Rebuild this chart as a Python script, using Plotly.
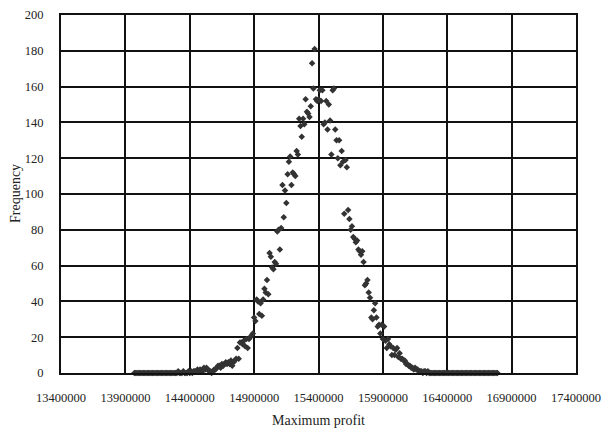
import plotly.graph_objects as go

# Bin start (lower edge) and bin width of the histogram (in currency units)
bin_start = 13970000
bin_width = 10000

# Frequencies per bin (13970000 .. 16790000)
freq_left_tail = [0] * 34 + [1, 0, 0, 0, 1, 0, 0, 0, 1]          # 13970000 .. 14390000
freq_rise = [0, 1, 0, 1, 1, 1, 2, 1, 2, 1,
             1, 3, 2, 3, 2, 1, 1, 0, 1, 2,
             2, 3, 4, 4, 3, 5, 4, 5, 6, 5,
             6, 5, 7, 4, 6, 7, 8, 14, 8, 17,
             17, 16, 18, 15, 19, 14, 19, 20, 21, 22,
             31, 29, 41, 40, 33, 39, 32, 41, 47, 45,
             52, 44, 67, 65, 59, 58, 62, 61, 79, 80,
             69, 81, 105, 87, 102, 95, 111, 118, 121, 105,
             112, 111, 110, 124, 122, 142, 138, 132, 142, 139,
             153, 146, 145, 143, 149, 173, 159, 181]                 # 14400000 .. 15370000
freq_fall = [153, 152, 153, 158, 152, 158, 139, 140, 152, 136,
             150, 141, 122, 158, 159, 136, 130, 120, 130, 116,
             124, 118, 89, 119, 115, 91, 86, 80, 82, 76,
             75, 73, 74, 69, 68, 66, 68, 62, 49, 50,
             52, 45, 42, 31, 30, 35, 39, 31, 26, 27,
             22, 27, 19, 26, 18, 14, 19, 16, 15, 10,
             14, 10, 13, 14, 9, 11, 8, 8, 7, 7,
             5, 5, 4, 4, 3, 3, 2, 3, 2, 2,
             1, 1, 1, 0, 1, 1, 0, 1]                                 # 15380000 .. 16250000
freq_right_tail = [0] * 54                                           # 16260000 .. 16790000

frequency = freq_left_tail + freq_rise + freq_fall + freq_right_tail
profit = [bin_start + i * bin_width for i in range(len(frequency))]

x_ticks = [13400000, 13900000, 14400000, 14900000, 15400000,
           15900000, 16400000, 16900000, 17400000]
y_ticks = list(range(0, 201, 20))

font_family = "Liberation Serif, Times New Roman, serif"
text_color = "#222222"
tick_font = dict(family=font_family, size=12.5, color=text_color)

fig = go.Figure()
fig.add_trace(go.Scatter(
    x=profit, y=frequency, mode="markers",
    marker=dict(symbol="diamond", size=5, color="#333333", line=dict(width=0)),
    showlegend=False, cliponaxis=False,
))

fig.update_layout(
    width=603, height=428,
    margin=dict(l=61, r=27, t=15, b=55),
    paper_bgcolor="white", plot_bgcolor="white",
    font=dict(family=font_family, size=14, color=text_color),
    xaxis=dict(
        range=[13400000, 17400000], tickvals=x_ticks,
        ticktext=[str(v) for v in x_ticks], tickfont=tick_font,
        showgrid=True, gridcolor="#111111", gridwidth=1.7,
        showline=True, linecolor="#111111", linewidth=2.2, mirror=True,
        zeroline=False, ticks="", ticklabelstandoff=12, automargin=False,
        ticklabeloverflow="allow",
        title=dict(text="Maximum profit", standoff=16,
                   font=dict(family=font_family, size=14, color=text_color)),
    ),
    yaxis=dict(
        range=[0, 200], tickvals=y_ticks, tickfont=tick_font,
        showgrid=True, gridcolor="#111111", gridwidth=1.7,
        showline=True, linecolor="#111111", linewidth=2.2, mirror=True,
        zeroline=False, ticks="", ticklabelstandoff=13, automargin=False,
        ticklabeloverflow="allow",
    ),
    annotations=[dict(
        text="Frequency", textangle=-90, showarrow=False,
        xref="paper", yref="paper", x=(15 - 61) / 515, y=0.5,
        xanchor="center", yanchor="middle",
        font=dict(family=font_family, size=14, color=text_color),
    )],
)

fig.write_html("out.html")
